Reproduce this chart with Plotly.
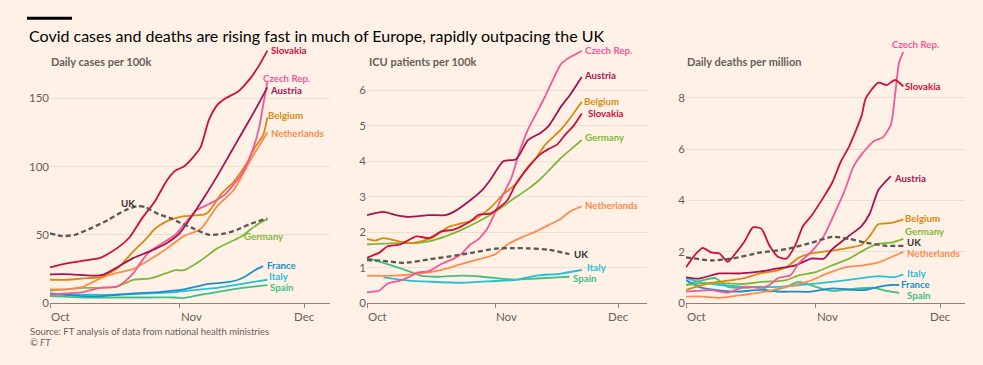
import pandas as pd
import plotly.graph_objects as go

W, H = 983, 365
START = pd.Timestamp("2020-10-01")

# ---------------- Panel 1: Daily cases per 100k ----------------
cases_sk_t = [0, 4, 8, 12, 16, 19, 22, 25, 28, 30, 32, 34, 36, 38, 40, 42, 45, 48, 50, 52]
cases_sk = [26, 29, 31, 33, 40, 48, 62, 74, 90, 97, 100, 106, 114, 134, 145, 150, 155, 165, 174, 185]
cases_cz_t = [0, 4, 8, 12, 16, 18, 20, 22, 24, 27, 30, 33, 35, 37, 39, 42, 44, 46, 48, 50, 51, 52]
cases_cz = [6, 7, 8, 11, 12, 16, 22, 31, 38, 44, 50, 61, 68, 71, 74, 80, 87, 95, 108, 128, 145, 162]
cases_at_t = [0, 5, 10, 13, 16, 20, 24, 28, 31, 34, 37, 40, 43, 46, 49, 52]
cases_at = [21, 21, 20, 21, 26, 33, 38, 44, 51, 64, 78, 93, 109, 125, 141, 158]
cases_be_t = [0, 4, 8, 12, 16, 20, 23, 25, 28, 31, 34, 37, 38, 41, 44, 47, 49, 51, 52]
cases_be = [17, 17, 18, 19, 25, 38, 47, 54, 60, 63, 64, 65, 67, 80, 89, 102, 114, 123, 136]
cases_nl_t = [0, 4, 8, 12, 16, 20, 24, 28, 32, 36, 40, 44, 48, 50, 52]
cases_nl = [10, 10, 12, 18, 22, 25, 32, 40, 49, 54, 71, 83, 105, 115, 125]
cases_de_t = [0, 4, 8, 12, 16, 20, 24, 28, 30, 32, 36, 40, 44, 46, 48, 51, 52]
cases_de = [9, 10, 11, 11, 12, 17, 18, 22, 24, 24, 31, 40, 46, 49, 54, 60, 61]
cases_fr_t = [0, 4, 8, 12, 16, 20, 26, 32, 38, 42, 45, 47, 49, 51]
cases_fr = [7, 6, 5, 5, 6, 7, 8, 10, 14, 15, 17, 20, 24, 27]
cases_it_t = [0, 8, 16, 24, 30, 36, 40, 44, 48, 52]
cases_it = [6, 6, 6, 7, 8, 10, 11, 13, 15, 17]
cases_es_t = [0, 8, 16, 24, 30, 32, 36, 40, 46, 52]
cases_es = [5, 4, 4, 4, 4, 3.5, 6, 8, 11, 13]
cases_uk_t = [0, 3, 6, 10, 14, 18, 21, 23, 26, 29, 31, 34, 38, 42, 45, 48, 52]
cases_uk = [51, 49, 50, 55, 61, 68, 71, 70, 65, 62, 59, 55, 50, 51, 54, 58, 62]

# ---------------- Panel 2: ICU patients per 100k ----------------
icu_cz_t = [0, 3, 5, 8, 10, 12, 15, 18, 21, 23, 25, 27, 29, 31, 33, 35, 37, 39, 41, 43, 45, 47, 49, 51, 52]
icu_cz = [0.3, 0.35, 0.55, 0.63, 0.72, 0.85, 0.9, 1.1, 1.25, 1.4, 1.65, 1.8, 2.07, 2.55, 3.07, 3.54, 4.3, 4.9, 5.35, 5.8, 6.3, 6.75, 6.93, 7.05, 7.12]
icu_at_t = [0, 4, 7, 10, 15, 19, 21, 25, 28, 30, 33, 36, 37, 39, 42, 44, 47, 49, 51, 52]
icu_at = [2.48, 2.57, 2.48, 2.43, 2.48, 2.48, 2.57, 2.9, 3.2, 3.5, 4.0, 4.05, 4.2, 4.6, 4.8, 5.0, 5.55, 5.85, 6.2, 6.38]
icu_be_t = [0, 2, 4, 7, 10, 13, 16, 20, 23, 26, 30, 33, 36, 39, 41, 43, 47, 50, 52]
icu_be = [1.8, 1.76, 1.83, 1.76, 1.69, 1.74, 1.85, 2.16, 2.25, 2.35, 2.7, 3.07, 3.35, 3.85, 4.1, 4.45, 4.9, 5.35, 5.68]
icu_sk_t = [0, 3, 5, 8, 12, 15, 18, 21, 25, 27, 30, 34, 36, 39, 42, 44, 46, 48, 50, 52]
icu_sk = [1.28, 1.42, 1.6, 1.65, 1.88, 1.83, 2.02, 2.07, 2.3, 2.49, 2.53, 2.9, 3.35, 3.82, 4.2, 4.35, 4.47, 4.75, 5.0, 5.35]
icu_de_t = [0, 7, 12, 15, 19, 23, 27, 31, 35, 39, 42, 47, 50, 52]
icu_de = [1.65, 1.69, 1.69, 1.74, 1.88, 2.07, 2.3, 2.57, 2.9, 3.22, 3.5, 4.1, 4.4, 4.6]
icu_nl_t = [0, 7, 12, 15, 19, 23, 27, 31, 34, 38, 40, 44, 47, 49, 52]
icu_nl = [0.77, 0.77, 0.82, 0.86, 0.96, 1.1, 1.23, 1.37, 1.65, 1.88, 1.97, 2.2, 2.38, 2.57, 2.73]
icu_uk_t = [0, 4, 9, 15, 22, 26, 31, 35, 39, 44, 49]
icu_uk = [1.21, 1.19, 1.13, 1.23, 1.35, 1.43, 1.53, 1.55, 1.54, 1.5, 1.38]
icu_it_t = [4, 10, 15, 23, 31, 36, 41, 47, 52]
icu_it = [0.72, 0.63, 0.6, 0.57, 0.62, 0.65, 0.77, 0.83, 0.93]
icu_es_t = [0, 4, 7, 10, 13, 17, 23, 28, 33, 36, 41, 46, 49]
icu_es = [1.27, 1.13, 1.02, 0.9, 0.77, 0.74, 0.77, 0.74, 0.68, 0.66, 0.69, 0.72, 0.74]

# ---------------- Panel 3: Daily deaths per million ----------------
deaths_cz_t = [0, 6, 10, 14, 18, 20, 22, 25, 27, 30, 33, 35, 38, 40, 42, 45, 47, 49, 50, 51, 52]
deaths_cz = [0.44, 0.5, 0.4, 0.63, 0.59, 0.7, 0.97, 1.08, 1.55, 2.0, 2.62, 3.3, 4.4, 5.3, 5.8, 6.32, 6.45, 6.95, 8.1, 9.4, 9.8]
deaths_sk_t = [0, 2, 4, 6, 8, 10, 12, 14, 16, 18, 20, 22, 24, 26, 28, 30, 33, 35, 37, 39, 42, 43, 46, 48, 50, 52]
deaths_sk = [1.39, 1.85, 2.15, 1.97, 1.93, 1.6, 1.97, 2.4, 2.95, 2.9, 2.23, 1.8, 1.73, 2.2, 3.0, 3.4, 4.15, 4.7, 5.5, 6.1, 7.3, 7.98, 8.6, 8.5, 8.7, 8.45]
deaths_at_t = [0, 3, 8, 13, 18, 22, 26, 30, 33, 35, 39, 42, 44, 46, 49]
deaths_at = [1.0, 0.95, 1.15, 1.15, 1.23, 1.35, 1.46, 1.73, 1.73, 2.1, 2.62, 3.0, 3.5, 4.4, 4.95]
deaths_be_t = [0, 6, 11, 14, 18, 22, 24, 27, 30, 33, 38, 42, 44, 46, 49, 52]
deaths_be = [0.51, 0.78, 0.89, 0.97, 1.16, 1.27, 1.39, 1.77, 1.93, 2.0, 2.12, 2.27, 2.62, 3.07, 3.12, 3.26]
deaths_de_t = [0, 6, 14, 18, 22, 24, 27, 31, 35, 39, 43, 46, 49, 52]
deaths_de = [0.7, 0.78, 0.74, 0.82, 0.85, 0.89, 1.08, 1.2, 1.47, 1.73, 2.1, 2.31, 2.35, 2.5]
deaths_uk_t = [0, 6, 11, 18, 24, 30, 35, 39, 43, 48, 52]
deaths_uk = [1.78, 1.66, 1.73, 1.97, 2.1, 2.35, 2.58, 2.5, 2.35, 2.23, 2.23]
deaths_nl_t = [0, 4, 8, 14, 19, 24, 29, 34, 38, 42, 46, 50, 52]
deaths_nl = [0.25, 0.25, 0.2, 0.32, 0.44, 0.63, 0.82, 1.16, 1.39, 1.46, 1.58, 1.85, 2.0]
deaths_it_t = [0, 3, 8, 14, 22, 30, 35, 42, 46, 50, 52]
deaths_it = [0.97, 0.82, 0.7, 0.63, 0.63, 0.74, 0.82, 0.97, 1.05, 1.01, 1.12]
deaths_fr_t = [0, 3, 7, 12, 18, 22, 26, 30, 35, 40, 43, 46, 49, 51]
deaths_fr = [0.89, 0.63, 0.51, 0.44, 0.51, 0.44, 0.44, 0.44, 0.57, 0.51, 0.51, 0.63, 0.7, 0.7]
deaths_es_t = [0, 4, 7, 10, 14, 18, 20, 24, 27, 31, 35, 40, 45, 48, 51]
deaths_es = [0.7, 0.89, 0.97, 0.63, 0.59, 0.63, 0.44, 0.63, 0.82, 0.63, 0.47, 0.55, 0.59, 0.47, 0.39]

# ---------------- Text ----------------
TITLE = "Covid cases and deaths are rising fast in much of Europe, rapidly outpacing the UK"
SUBTITLES = ["Daily cases per 100k", "ICU patients per 100k", "Daily deaths per million"]
SOURCE = "Source: FT analysis of data from national health ministries"
MONTH_TICKS = ["2020-10-01", "2020-11-01", "2020-12-01"]
MONTH_LABELS = ["Oct", "Nov", "Dec"]
Y_TICKS = [[0, 50, 100, 150], [0, 1, 2, 3, 4, 5, 6], [0, 2, 4, 6, 8]]

COL = {
    "Slovakia": "#cf0f3a", "Czech Rep.": "#f4579a", "Austria": "#a8124f",
    "Belgium": "#d88a10", "Netherlands": "#fc8c4c", "Germany": "#7fb83a",
    "France": "#1a90d2", "Italy": "#22c3d8", "Spain": "#3ec088", "UK": "#5a5755",
}
BG = "#fff1e5"
GRID = "#ebdfd4"
AXIS = "#8a827c"
TXT = "#66605c"
FONT = "Lato"


def px(x):
    return x / W


def py(y):
    return 1 - y / H


def dates(t):
    return [START + pd.Timedelta(days=d) for d in t]


fig = go.Figure()

panels = [
    [("Spain", cases_es_t, cases_es), ("Italy", cases_it_t, cases_it), ("France", cases_fr_t, cases_fr),
     ("Germany", cases_de_t, cases_de), ("Netherlands", cases_nl_t, cases_nl), ("Belgium", cases_be_t, cases_be),
     ("Czech Rep.", cases_cz_t, cases_cz), ("Austria", cases_at_t, cases_at), ("Slovakia", cases_sk_t, cases_sk),
     ("UK", cases_uk_t, cases_uk)],
    [("Spain", icu_es_t, icu_es), ("Italy", icu_it_t, icu_it), ("Netherlands", icu_nl_t, icu_nl),
     ("Germany", icu_de_t, icu_de), ("Belgium", icu_be_t, icu_be), ("Czech Rep.", icu_cz_t, icu_cz),
     ("Austria", icu_at_t, icu_at), ("Slovakia", icu_sk_t, icu_sk), ("UK", icu_uk_t, icu_uk)],
    [("Spain", deaths_es_t, deaths_es), ("France", deaths_fr_t, deaths_fr), ("Italy", deaths_it_t, deaths_it),
     ("Netherlands", deaths_nl_t, deaths_nl), ("Germany", deaths_de_t, deaths_de), ("Belgium", deaths_be_t, deaths_be),
     ("Austria", deaths_at_t, deaths_at), ("Czech Rep.", deaths_cz_t, deaths_cz), ("Slovakia", deaths_sk_t, deaths_sk),
     ("UK", deaths_uk_t, deaths_uk)],
]

# panel geometry in pixels: x-left, x-right, px per day, y-range top
geom = [(50, 330, 4.18, 187.5), (367, 647, 4.13, 7.22), (686, 965, 4.18, 9.98)]
Y_TOP, Y_BOT = 48, 308

for i, series in enumerate(panels):
    sfx = "" if i == 0 else str(i + 1)
    for name, t, v in series:
        fig.add_trace(go.Scatter(
            x=dates(t), y=v, mode="lines", name=name, showlegend=False,
            line=dict(color=COL[name], width=2.3 if name == "UK" else 1.8,
                      dash="5px,3px" if name == "UK" else "solid",
                      shape="spline", smoothing=0.6),
            xaxis="x" + sfx, yaxis="y" + sfx, hoverinfo="skip"))
    x0, x1, ppd, ytop = geom[i]
    days_span = (x1 - x0) / ppd
    layout_x = dict(
        domain=[px(x0), px(x1)], type="date",
        range=[START, START + pd.Timedelta(days=days_span)],
        tickvals=MONTH_TICKS, ticktext=["", "", ""], ticks="outside", ticklen=4,
        tickcolor=AXIS, tickwidth=1, showline=True, linecolor=AXIS, linewidth=1,
        showgrid=False, zeroline=False, anchor="y" + sfx, fixedrange=True)
    layout_y = dict(
        domain=[py(Y_BOT), py(Y_TOP)], range=[0, ytop], tickvals=Y_TICKS[i],
        showgrid=True, gridcolor=GRID, gridwidth=1, zeroline=False, showline=False,
        ticks="", tickfont=dict(family=FONT, size=11.5, color=TXT),
        anchor="x" + sfx, fixedrange=True)
    fig.update_layout(**{"xaxis" + sfx: layout_x, "yaxis" + sfx: layout_y})
    # month labels
    for tv, tl in zip(MONTH_TICKS, MONTH_LABELS):
        fig.add_annotation(x=tv, y=py(313), xref="x" + sfx, yref="paper", text=tl,
                           showarrow=False, xanchor="center" if tl == "Dec" else "left",
                           yanchor="top", xshift=-1 if tl != "Dec" else 0,
                           font=dict(family=FONT, size=11.5, color=TXT))

# line labels (pixel positions of label text: left x, centre y)
labels = [
    ("Slovakia", 270, 51), ("Czech Rep.", 262, 79), ("Austria", 269, 91), ("Belgium", 267, 117),
    ("Netherlands", 270, 135), ("UK", 120, 206), ("Germany", 243, 240), ("France", 266, 269),
    ("Italy", 268, 281), ("Spain", 269, 292),
    ("Czech Rep.", 584, 51), ("Austria", 583, 76), ("Belgium", 583, 103), ("Slovakia", 587, 115),
    ("Germany", 584, 139), ("Netherlands", 584, 208), ("UK", 573, 258), ("Italy", 586, 271),
    ("Spain", 572, 283),
    ("Czech Rep.", 891, 45), ("Slovakia", 904, 87), ("Austria", 893, 181), ("Belgium", 904, 222),
    ("Germany", 904, 235), ("UK", 906, 246.5), ("Netherlands", 906, 257.5), ("Italy", 906, 277.5),
    ("France", 900, 289), ("Spain", 906, 300),
]
for name, lx, ly in labels:
    fig.add_annotation(x=px(lx), y=py(ly), xref="paper", yref="paper", text="<b>%s</b>" % name,
                       showarrow=False, xanchor="left", yanchor="middle", borderpad=0,
                       font=dict(family=FONT, size=9.7, color="#33302e" if name == "UK" else COL[name]))

# subtitles
for (st, sx) in zip(SUBTITLES, [49, 367, 685]):
    fig.add_annotation(x=px(sx), y=py(63), xref="paper", yref="paper", text="<b>%s</b>" % st,
                       showarrow=False, xanchor="left", yanchor="middle",
                       font=dict(family=FONT, size=11, color=TXT))

# title and bar
fig.add_shape(type="rect", xref="paper", yref="paper", x0=px(27), x1=px(72), y0=py(20), y1=py(17),
              fillcolor="#000000", line=dict(width=0))
fig.add_annotation(x=px(27), y=py(36), xref="paper", yref="paper", text=TITLE, showarrow=False,
                   xanchor="left", yanchor="middle", font=dict(family=FONT, size=16, color="#000000"))

# source
fig.add_annotation(x=px(28), y=py(337), xref="paper", yref="paper", text=SOURCE, showarrow=False,
                   xanchor="left", yanchor="middle", font=dict(family=FONT, size=9.5, color=TXT))
fig.add_annotation(x=px(28), y=py(348), xref="paper", yref="paper", text="<i>© FT</i>", showarrow=False,
                   xanchor="left", yanchor="middle", font=dict(family=FONT, size=9.5, color=TXT))

fig.update_layout(width=W, height=H, margin=dict(l=0, r=0, t=0, b=0),
                  paper_bgcolor=BG, plot_bgcolor=BG, showlegend=False)

fig.write_html("out.html", config={"displayModeBar": False, "staticPlot": True},
               post_script="document.body.style.margin='0';document.body.style.background='%s';" % BG)
